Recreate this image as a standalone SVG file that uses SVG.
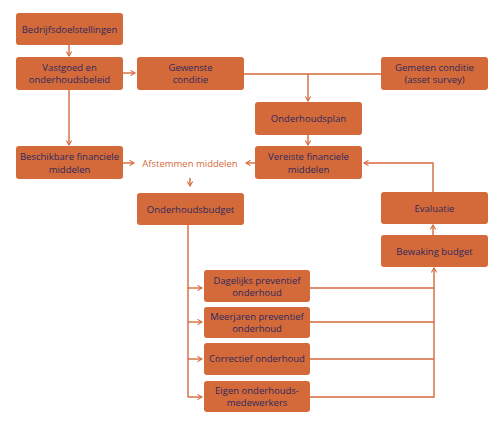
<svg xmlns="http://www.w3.org/2000/svg" width="500" height="425" viewBox="0 0 500 425">
<style>
.box{fill:#D4693A;}
.t{font-family:"Open Sans","Noto Sans",sans-serif;font-size:9.5px;fill:#2E2A5E;text-anchor:middle;}
.c{fill:none;stroke:#D4693A;stroke-width:1.4;}
.a{fill:none;stroke:#D4693A;stroke-width:1.4;marker-end:url(#ar);}
</style>
<defs>
<marker id="ar" viewBox="0 0 8 8" refX="7" refY="4" markerWidth="6" markerHeight="6" markerUnits="userSpaceOnUse" orient="auto">
<path d="M1,0.5 L7,4 L1,7.5" fill="none" stroke="#D4693A" stroke-width="1.4"/>
</marker>
</defs>
<rect width="500" height="425" fill="#fff"/>
<g id="connectors">
<path class="a" d="M69,45 V56"/>
<path class="a" d="M123,73 H135"/>
<path class="a" d="M69,90 V145"/>
<path class="c" d="M244,74 H381"/>
<path class="a" d="M308,74 V101"/>
<path class="a" d="M308,135 V145"/>
<path class="a" d="M123,163 H134"/>
<path class="a" d="M255,163 H246"/>
<path class="a" d="M190,178 V186"/>
<path class="a" d="M433,192 V163 H364"/>
<path class="a" d="M433,235 V225"/>
<path class="c" d="M188,225 V397"/>
<path class="a" d="M188,288 H202"/>
<path class="a" d="M188,322 H202"/>
<path class="a" d="M188,359 H202"/>
<path class="a" d="M188,397 H202"/>
<path class="c" d="M310,288 H434"/>
<path class="c" d="M310,322 H434"/>
<path class="c" d="M310,359 H434"/>
<path class="a" d="M310,397 H434 V268"/>
</g>
<g id="n1"><rect class="box" x="16" y="13" width="107" height="32" rx="3"/><text class="t" x="69.5" y="32.5">Bedrijfsdoelstellingen</text></g>
<g id="n2"><rect class="box" x="16" y="57" width="107" height="33" rx="3"/><text class="t" x="69.5" y="71">Vastgoed en</text><text class="t" x="69.5" y="83">onderhoudsbeleid</text></g>
<g id="n3"><rect class="box" x="137" y="57" width="107" height="33" rx="3"/><text class="t" x="190.5" y="71">Gewenste</text><text class="t" x="190.5" y="83">conditie</text></g>
<g id="n4"><rect class="box" x="381" y="57" width="107" height="33" rx="3"/><text class="t" x="434.5" y="71">Gemeten conditie</text><text class="t" x="434.5" y="83">(asset survey)</text></g>
<g id="n5"><rect class="box" x="255" y="102" width="107" height="33" rx="3"/><text class="t" x="308.5" y="122">Onderhoudsplan</text></g>
<g id="n6"><rect class="box" x="255" y="146" width="107" height="33" rx="3"/><text class="t" x="308.5" y="160">Vereiste financiele</text><text class="t" x="308.5" y="173">middelen</text></g>
<g id="n7"><rect class="box" x="16" y="146" width="107" height="33" rx="3"/><text class="t" x="69.5" y="160">Beschikbare financiele</text><text class="t" x="69.5" y="173">middelen</text></g>
<g id="n8"><text class="t" x="190" y="166.5" style="fill:#D4693A">Afstemmen middelen</text></g>
<g id="n9"><rect class="box" x="137" y="193" width="107" height="32" rx="3"/><text class="t" x="190.5" y="212.5">Onderhoudsbudget</text></g>
<g id="n10"><rect class="box" x="381" y="192" width="107" height="32" rx="3"/><text class="t" x="434.5" y="211.5">Evaluatie</text></g>
<g id="n11"><rect class="box" x="381" y="235" width="107" height="32" rx="3"/><text class="t" x="434.5" y="254.5">Bewaking budget</text></g>
<g id="n12"><rect class="box" x="204" y="270" width="106" height="32" rx="3"/><text class="t" x="257" y="284">Dagelijks preventief</text><text class="t" x="257" y="296">onderhoud</text></g>
<g id="n13"><rect class="box" x="204" y="307" width="106" height="31" rx="3"/><text class="t" x="257" y="320">Meerjaren preventief</text><text class="t" x="257" y="332">onderhoud</text></g>
<g id="n14"><rect class="box" x="204" y="343" width="106" height="32" rx="3"/><text class="t" x="257" y="362">Correctief onderhoud</text></g>
<g id="n15"><rect class="box" x="204" y="381" width="106" height="31" rx="3"/><text class="t" x="257" y="394">Eigen onderhouds-</text><text class="t" x="257" y="406">medewerkers</text></g>
</svg>
